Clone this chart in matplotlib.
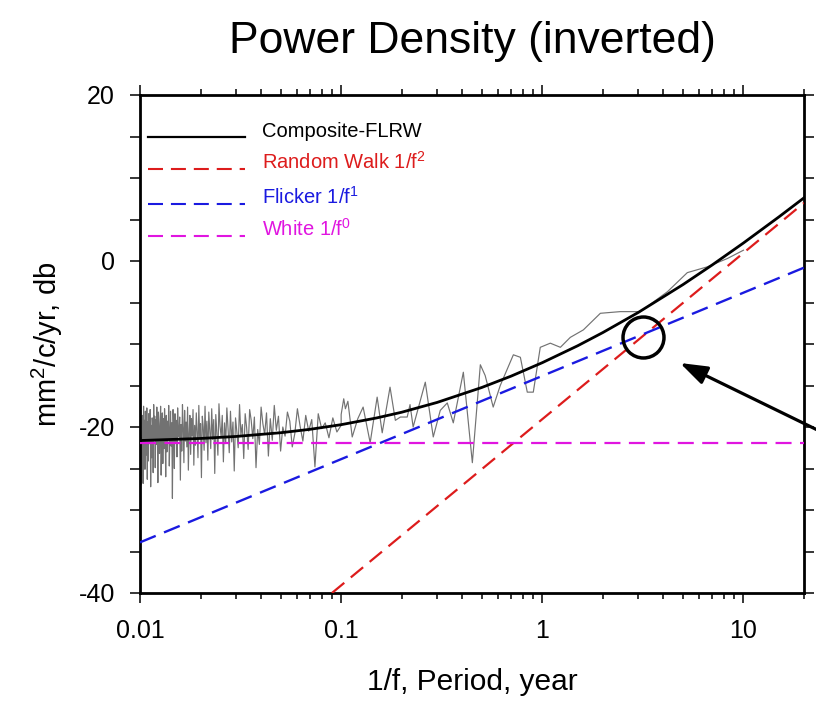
# -*-coding:utf-8-*-

import matplotlib.pyplot as plt
import numpy as np
from matplotlib.ticker import LogLocator, MultipleLocator, NullFormatter

plt.rcParams['font.family'] = ['Liberation Sans', 'DejaVu Sans']
plt.rcParams['mathtext.default'] = 'regular'
plt.rcParams['axes.unicode_minus'] = False

# model lines (period in years, power in db)
whitePeriod = [0.01, 20]
whiteDb = [-21.9, -21.9]
flickerPeriod = [0.01, 20]
flickerDb = [-33.9, -0.8]
walkPeriod = [0.09, 20]
walkDb = [-40.0, 7.0]

# composite FLRW curve
compositePeriod = [0.01, 0.02, 0.03, 0.05, 0.07, 0.1, 0.15, 0.2, 0.3, 0.5, 0.7,
                   1, 1.5, 2, 3, 5, 7, 10, 15, 20]
compositeDb = [-21.63, -21.38, -21.14, -20.69, -20.28, -19.72, -18.91, -18.22,
               -17.04, -15.24, -13.87, -12.25, -10.21, -8.62, -6.20, -2.85,
               -0.47, 2.17, 5.31, 7.61]

# observed spectrum, high frequency part (cycles/year, step 0.5 from 10 to 100)
denseFreq = np.arange(10, 100.5, 0.5)
denseDb = [
    -19.8, -20.6, -18.9, -21.3, -19.5, -20.2, -18.4, -24.8, -19.1, -20.5,
    -18.6, -21.7, -19.9, -17.8, -20.8, -22.4, -19.3, -18.2, -21.1, -20.0,
    -22.9, -18.7, -20.4, -17.4, -21.6, -19.0, -23.5, -18.3, -20.9, -19.6,
    -17.6, -22.1, -20.3, -24.9, -18.8, -21.4, -19.2, -17.9, -22.7, -20.1,
    -18.4, -23.8, -19.7, -21.0, -17.3, -22.5, -20.6, -18.9, -25.3, -19.4,
    -21.8, -18.1, -23.1, -20.2, -17.7, -22.0, -19.5, -24.2, -18.6, -21.2,
    -19.9, -17.2, -23.4, -20.7, -18.5, -25.6, -19.1, -21.5, -17.8, -22.6,
    -20.4, -18.2, -24.0, -19.3, -21.9, -17.5, -22.8, -20.0, -18.7, -26.1,
    -19.6, -21.3, -17.4, -23.7, -20.5, -18.3, -22.2, -19.8, -24.6, -17.9,
    -21.1, -19.0, -23.3, -18.6, -20.8, -25.2, -17.6, -22.4, -19.4, -21.7,
    -18.0, -24.3, -20.1, -17.3, -22.9, -19.7, -26.4, -18.8, -21.2, -20.3,
    -17.7, -23.6, -19.2, -21.8, -18.4, -25.0, -20.6, -17.9, -28.6, -19.5,
    -22.3, -18.1, -20.9, -24.7, -17.4, -21.5, -19.3, -23.0, -18.6, -26.0,
    -20.2, -17.8, -22.6, -19.0, -24.4, -18.3, -21.0, -25.8, -17.5, -20.7,
    -23.2, -19.6, -18.2, -26.7, -20.4, -17.6, -22.1, -19.1, -24.9, -18.7,
    -21.4, -17.3, -25.5, -20.0, -18.9, -23.7, -19.8, -27.2, -17.9, -22.0,
    -20.6, -18.4, -24.1, -19.4, -26.3, -17.7, -21.9, -23.4, -18.1, -25.1,
    -19.2, -22.8, -17.5, -26.8, -20.3, -18.6, -24.5, -21.3, -27.0, -19.0,
    -22.5]

# observed spectrum, low frequency part (period, db)
sparsePeriod = [0.100, 0.103, 0.105, 0.108, 0.1135, 0.121, 0.1286, 0.1394,
                0.151, 0.160, 0.175, 0.186, 0.197, 0.213, 0.220, 0.228, 0.262,
                0.287, 0.311, 0.337, 0.361, 0.405, 0.449, 0.492, 0.520, 0.570,
                0.618, 0.718, 0.778, 0.842, 0.902, 0.977, 1.096, 1.230, 1.378,
                1.600, 1.944, 2.44, 3.07, 4.19, 5.26, 6.62, 8.32, 10.0]
sparseDb = [-18.5, -16.6, -17.8, -16.9, -21.2, -19.0, -17.6, -21.9,
            -16.4, -20.7, -15.2, -19.2, -18.8, -18.8, -17.3, -20.0, -14.6,
            -21.2, -18.0, -17.1, -19.5, -13.4, -24.3, -12.5, -13.8, -17.6,
            -15.0, -11.3, -11.6, -15.8, -15.8, -10.4, -9.9, -10.4, -9.2,
            -8.3, -6.3, -6.1, -6.1, -3.7, -1.4, -0.7, 0.3, 1.3]

legendLabels = ['Composite-FLRW', 'Random Walk 1/f$^2$', 'Flicker 1/f$^1$',
                'White 1/f$^0$']

red = '#dd1c1c'
blue = '#1a1ae0'
magenta = '#e015e0'
legendColors = ['black', red, blue, magenta]

fig = plt.figure(figsize=(8.16, 7.08), dpi=100)
ax = fig.add_axes([140 / 816, 1 - 593 / 708, 664 / 816, 498 / 708])

# observed spectrum joined from short periods to long periods
obsPeriod = list(1.0 / denseFreq[::-1]) + sparsePeriod
obsDb = denseDb[::-1] + sparseDb
ax.plot(obsPeriod, obsDb, color='#727272', lw=0.85, zorder=2)

dash = (7.2, 3.8)
ax.plot(compositePeriod, compositeDb, color='black', lw=2.0, zorder=4)
ax.plot(walkPeriod, walkDb, color=red, lw=1.6, dashes=dash, zorder=3)
ax.plot(flickerPeriod, flickerDb, color=blue, lw=1.7, dashes=dash, zorder=3)
ax.plot(whitePeriod, whiteDb, color=magenta, lw=1.6, dashes=dash, zorder=3)

# circle where flicker meets random walk
ax.plot([3.15], [-9.1], marker='o', markersize=29.5, markerfacecolor='none',
        markeredgecolor='black', markeredgewidth=2.5, zorder=5)

ax.set_xscale('log')
ax.set_xlim(0.01, 20)
ax.set_ylim(-40, 20)
ax.set_xticks([0.01, 0.1, 1, 10])
ax.set_xticklabels(['0.01', '0.1', '1', '10'])
ax.xaxis.set_minor_locator(LogLocator(base=10, subs=np.arange(2, 10)))
ax.xaxis.set_minor_formatter(NullFormatter())
ax.set_yticks([-40, -20, 0, 20])
ax.yaxis.set_minor_locator(MultipleLocator(5))

for side in ax.spines:
    ax.spines[side].set_linewidth(2)
ax.tick_params(which='both', direction='out', top=True, right=True,
               width=1.1, labelsize=18)
ax.tick_params(axis='x', pad=12)
ax.tick_params(axis='y', pad=11)
ax.tick_params(which='major', length=7)
ax.tick_params(axis='x', which='minor', length=4)
ax.tick_params(axis='y', which='minor', length=7)

ax.set_title('Power Density (inverted)', fontsize=32, pad=30)
ax.set_xlabel('1/f, Period, year', fontsize=21.5, labelpad=18)
ax.set_ylabel('mm$^2$/c/yr, db', fontsize=21, labelpad=10)

# legend drawn by hand: sample line sits on the text baseline
legendY = [0.916, 0.851, 0.782, 0.717]
for i in range(len(legendLabels)):
    y = legendY[i]
    if i == 0:
        ax.plot([0.012, 0.158], [y, y], color=legendColors[i], lw=1.6,
                transform=ax.transAxes, zorder=6)
    else:
        ax.plot([0.012, 0.158], [y, y], color=legendColors[i], lw=1.5,
                dashes=dash, transform=ax.transAxes, zorder=6)
    ax.text(0.184, y, legendLabels[i], color=legendColors[i], fontsize=14.5,
            va='baseline', ha='left', transform=ax.transAxes, zorder=6)

# arrow coming in from the right edge
ax.annotate('', xy=(680, 708 - 363), xycoords='figure pixels',
            xytext=(840, 708 - 441), textcoords='figure pixels',
            arrowprops=dict(arrowstyle='-|>,head_length=1.1,head_width=0.38',
                            mutation_scale=15, lw=2.3, color='black',
                            shrinkA=0, shrinkB=0))

fig.savefig('out.png', dpi=100)
